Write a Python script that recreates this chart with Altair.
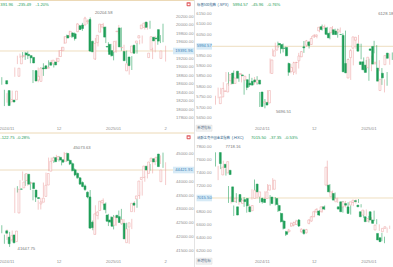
import altair as alt
import pandas as pd

# ---------------- data ----------------
# trading-session index: 0 = 2024-11-01, 20 = 2024-12-02, 41 = 2025-01-02, 61 = 2025-02-03
month_labels = ["2024/11", "12", "2025/01", "2"]
month_index = [0, 20, 41, 61]

# Nasdaq Composite, sessions -2 .. 61
ixic_start = -2
ixic_open = [18688, 18452, 18184, 18225, 18234, 18790, 19087, 19260, 19345, 19312, 19282, 19240,
             18926, 18703, 18670, 18990, 19040, 18980, 19120, 19090, 19130, 19140, 19260, 19400, 19580,
             19760, 19740, 19820, 19800, 19850, 19990, 20010, 20010, 20090, 20140, 19620, 19200, 19590,
             19840, 19960, 19960, 19500, 19550, 19400, 19370, 19850, 19940, 19470, 19380, 18920, 19250,
             19350, 19530, 19580, 19700, 19920, 19950, 20080, 19235, 19420, 19720, 19700, 19900, 19215]
ixic_high = [18770, 18470, 18390, 18290, 18450, 19000, 19280, 19330, 19366, 19370, 19380, 19260,
             18940, 18830, 19000, 19000, 19100, 19050, 19170, 19180, 19140, 19230, 19410, 19490, 19740,
             19780, 19870, 19840, 19830, 20055, 20010, 20060, 20204.58, 20140, 20190, 19640, 19700, 19770,
             20032, 20060, 19970, 19600, 19560, 19520, 19640, 20010, 19950, 19540, 19400, 19090, 19270,
             19530, 19580, 19660, 19760, 20070, 20060, 20110, 19470, 19750, 19750, 19770, 20040, 19517]
ixic_low = [18590, 18083, 18165, 18132, 18228, 18780, 19080, 19230, 19230, 19180, 19200, 19100,
            18630, 18670, 18650, 18760, 18800, 18960, 18990, 19060, 19000, 19120, 19250, 19390, 19560,
            19690, 19730, 19700, 19640, 19840, 19900, 19870, 20000, 20030, 19370, 19370, 19180, 19500,
            19835, 19920, 19580, 19370, 19260, 19170, 19350, 19790, 19400, 19300, 19100, 18830, 18940,
            19330, 19330, 19550, 19570, 19900, 19900, 19920, 19200, 19360, 19540, 19580, 19600, 19141]
ixic_close = [18607, 18095, 18239, 18179, 18439, 18983, 19269, 19286, 19298, 19281, 19230, 19107,
              18680, 18791, 18987, 18966, 18972, 19003, 19054, 19174, 19060, 19218, 19403, 19480, 19735,
              19700, 19859, 19736, 19687, 20034, 19902, 19926, 20173, 20109, 19392, 19372, 19572, 19764,
              20031, 20020, 19722, 19486, 19310, 19280, 19621, 19864, 19489, 19478, 19161, 19088, 19044,
              19511, 19338, 19630, 19756, 20009, 20053, 19954, 19341, 19733, 19632, 19681, 19627, 19391.96]
ixic_ticks = [20200, 20000, 19800, 19600, 19200, 19000, 18800, 18600, 18400, 18200, 18000, 17800]

# S&P 500, sessions -18 .. 50
spx_start = -18
spx_open = [5719, 5751, 5778, 5775, 5829, 5866, 5816, 5875, 5859, 5857, 5832, 5834, 5817, 5826, 5833, 5819,
            5832, 5775, 5723, 5725, 5722, 5864, 5947, 5976, 6008, 6003, 5986, 5989, 5912, 5874, 5870, 5917,
            5925, 5944, 5992, 6000, 6015, 6003, 6040, 6042, 6069, 6089, 6082, 6083, 6057, 6060, 6074, 6068,
            6063, 6052, 6047, 5912, 5842, 5940, 5985, 6024, 6006, 5920, 5920, 5904, 5892, 5982, 5994, 5910,
            5890, 5782, 5865, 5906, 5962]
spx_high = [5757, 5796, 5795, 5822, 5871, 5870, 5846, 5878, 5872, 5866, 5864, 5834, 5817, 5862, 5843, 5847,
            5851, 5775, 5772, 5741, 5784, 5936, 5983, 6012, 6017, 6009, 6008, 5993, 5916, 5909, 5920, 5920,
            5963, 5972, 6020, 6025, 6020, 6044, 6053, 6052, 6089, 6099, 6099, 6088, 6065, 6092, 6079, 6079,
            6085, 6057, 6070, 5935, 5982, 5979, 6040, 6049, 6007, 5941, 5929, 5935, 5950, 6021, 6000, 5928,
            5890, 5836, 5871, 5960, 5965]
spx_low = [5714, 5745, 5764, 5775, 5824, 5804, 5809, 5840, 5846, 5824, 5821, 5762, 5784, 5799, 5823, 5811,
           5810, 5703, 5723, 5696.51, 5722, 5864, 5947, 5976, 5986, 5960, 5965, 5947, 5853, 5865, 5857, 5860,
           5888, 5944, 5963, 5992, 5984, 6003, 6035, 6033, 6062, 6070, 6079, 6047, 6028, 6060, 6051, 6036,
           6059, 6035, 5867, 5866, 5833, 5903, 5983, 6007, 5932, 5880, 5868, 5829, 5875, 5961, 5890, 5875,
           5809, 5773, 5805, 5906, 5929]
spx_close = [5751, 5792, 5780, 5815, 5859, 5815, 5842, 5841, 5864, 5853, 5851, 5797, 5809, 5808, 5823, 5832,
             5813, 5705, 5728, 5712, 5782, 5929, 5973, 5995, 6001, 5983, 5985, 5949, 5870, 5893, 5916, 5917,
             5948, 5969, 5987, 6021, 5998, 6032, 6047, 6049, 6086, 6075, 6090, 6052, 6035, 6084, 6051, 6051,
             6074, 6051, 5872, 5867, 5931, 5974, 6040, 6038, 5971, 5907, 5882, 5869, 5942, 5975, 5909, 5918,
             5827, 5836, 5843, 5950, 5937]
spx_ticks = [6150, 6100, 6050, 5950, 5900, 5850, 5800, 5750, 5700, 5650]

# Dow Jones Industrial Average, sessions -2 .. 61
dji_start = -2
dji_open = [42230, 42000, 41900, 42080, 41840, 42870, 43740, 43780, 44040, 44270, 43950, 43960,
            43700, 43430, 43200, 43260, 43470, 43880, 44380, 44760, 44870, 44800, 44880, 44790, 44740,
            45020, 44770, 44650, 44430, 44300, 44140, 43970, 43850, 43620, 43450, 42540, 42100, 42780,
            42960, 43240, 43200, 42800, 42620, 42720, 42430, 42790, 42740, 42480, 42500, 41800, 42360,
            42920, 43230, 43380, 43500, 44080, 44150, 44560, 44300, 44740, 44830, 44740, 45000, 44000]
dji_high = [42430, 42090, 42280, 42190, 42240, 43780, 43840, 44060, 44370, 44280, 44080, 44000,
            43710, 43530, 43330, 43420, 43970, 44330, 44870, 44870, 44900, 44970, 44930, 44830, 45073.63,
            45050, 44800, 44700, 44480, 44330, 44160, 44010, 43900, 43650, 43700, 42600, 43150, 42950,
            43300, 43400, 43250, 42840, 42750, 42800, 42760, 42960, 43020, 42650, 42520, 42320, 42660,
            43300, 43370, 43640, 44050, 44200, 44580, 44640, 44800, 44860, 44900, 44950, 45050, 44700]
dji_low = [42140, 41760, 41900, 41647.75, 41830, 42870, 43610, 43760, 44040, 43850, 43850, 43700,
           43330, 43270, 42990, 43000, 43430, 43870, 44380, 44640, 44680, 44780, 44730, 44590, 44730,
           44720, 44600, 44370, 44200, 44100, 43890, 43800, 43670, 43400, 42310, 42250, 42100, 42640,
           42960, 43150, 42860, 42400, 42520, 42280, 42410, 42650, 42460, 42210, 41840, 41760, 42290,
           42900, 43060, 43380, 43500, 44000, 44120, 44400, 44300, 44600, 44550, 44640, 44500, 43880]
dji_close = [42141, 41763, 42052, 41794, 42221, 43729, 43729, 43988, 44293, 43910, 43958, 43750,
             43444, 43389, 43268, 43408, 43870, 44296, 44736, 44860, 44722, 44910, 44782, 44705, 45014,
             44765, 44642, 44401, 44247, 44148, 43914, 43828, 43717, 43449, 42326, 42342, 42840, 42906,
             43297, 43325, 42992, 42573, 42544, 42392, 42732, 42706, 42528, 42635, 41938, 42297, 42518,
             43221, 43153, 43487, 44025, 44156, 44565, 44424, 44713, 44850, 44713, 44882, 44544, 44421.91]
dji_ticks = [45000, 44000, 43500, 43000, 42500, 42000, 41500]

# Nasdaq Golden Dragon China (.HXC), sessions -18 .. 49
hxc_start = -18
hxc_open = [7715, 7370, 7534, 7400, 7442, 7187, 6960, 6880, 7069, 6931, 6990, 7008, 6880, 6820, 7008, 7230,
            7034, 7008, 7000, 7008, 7136, 7030, 7150, 7008, 6900, 6778, 6661, 6497, 6497, 6585, 6600, 6609,
            6677, 6497, 6523, 6480, 6625, 6661, 6727, 6800, 6815, 6804, 6880, 7213, 7213, 7034, 7085, 6957,
            6880, 6957, 6880, 6930, 6880, 6906, 6946, 6975, 6906, 6804, 6753, 6727, 6660, 6804, 6677, 6523,
            6470, 6405, 6497, 6548]
hxc_high = [7718.16, 7510, 7560, 7590, 7470, 7200, 7040, 6900, 7090, 7000, 7010, 7030, 6900, 6920, 7150, 7300,
            7120, 7030, 7020, 7120, 7230, 7060, 7320, 7030, 6930, 6790, 6680, 6510, 6540, 6640, 6650, 6680,
            6690, 6550, 6540, 6540, 6690, 6740, 6820, 6860, 6830, 6890, 6900, 7590, 7230, 7130, 7100, 7020,
            6900, 6970, 6970, 6950, 6900, 6970, 6995, 7000, 6920, 6820, 6840, 6740, 6720, 6820, 6690, 6610,
            6480, 6420, 6560, 6590]
hxc_low = [7500, 7290, 7460, 7380, 7360, 6940, 6930, 6740, 6940, 6910, 6940, 6880, 6790, 6800, 6990, 7090,
           7010, 6940, 6930, 6990, 7120, 6900, 7140, 6900, 6800, 6640, 6530, 6430, 6480, 6570, 6580, 6600,
           6570, 6480, 6450, 6470, 6610, 6650, 6720, 6790, 6740, 6790, 6830, 7190, 7090, 7010, 6970, 6940,
           6830, 6790, 6870, 6890, 6760, 6890, 6930, 6940, 6870, 6710, 6740, 6640, 6640, 6660, 6610, 6510,
           6350, 6320, 6480, 6540]
hxc_close = [7545, 7490, 7483, 7575, 7376, 6957, 7010, 6753, 6957, 6983, 6960, 6896, 6804, 6900, 7136, 7110,
             7110, 6957, 6946, 7110, 7213, 6930, 7289, 6916, 6820, 6651, 6548, 6456, 6523, 6625, 6640, 6661,
             6585, 6535, 6470, 6530, 6677, 6727, 6804, 6840, 6753, 6880, 6845, 7490, 7110, 7110, 6983, 7008,
             6845, 6804, 6957, 6905, 6778, 6957, 6983, 6960, 6880, 6727, 6830, 6651, 6700, 6677, 6625, 6600,
             6370, 6344, 6548, 6574]
hxc_ticks = [7800, 7600, 7400, 7200, 6800, 6600, 6400, 6200]

# ---------------- style ----------------
GREEN = "#1f9e58"
RED = "#ea9c9c"
LABEL = "#8f8f8f"
CUR_LINE = "#e7cfa3"
CUR_BOX = "#d6eaf6"
CUR_TXT = "#3b82b8"
NAME = "#2f5f8a"
SEP = "#dcdcdc"
FONT = "Liberation Sans"
CJK = "Noto Sans CJK SC"
FS = 4.2

X_LEFT = [-2.69, 62.69]
X_RIGHT = [-19.35, 50.27]


def const():
    return alt.Chart(pd.DataFrame({"k": [0]}))


def panel(start, o, h, l, c, xdom, ydom, box, ticks, cur, side, extremes, header):
    x0, x1, y0, y1 = box
    n = len(o)
    df = pd.DataFrame({"i": [start + k for k in range(n)], "o": o, "h": h, "l": l, "c": c})
    df["dir"] = ["up" if cc >= oo else "down" for oo, cc in zip(o, c)]
    xs = alt.Scale(domain=xdom, range=[x0, x1], nice=False, zero=False)
    ys = alt.Scale(domain=ydom, range=[y1, y0], nice=False, zero=False)
    X = alt.X("i:Q", scale=xs, axis=None)
    col = alt.Stroke("dir:N", scale=alt.Scale(domain=["up", "down"], range=[RED, GREEN]), legend=None)
    base = alt.Chart(df)
    wick = base.mark_rule(strokeWidth=0.55).encode(
        x=X, y=alt.Y("l:Q", scale=ys, axis=None), y2="h:Q", stroke=col)
    body = base.mark_bar(size=1.9, strokeWidth=0.5).encode(
        x=X, y=alt.Y("o:Q", scale=ys, axis=None), y2="c:Q", stroke=col,
        fill=alt.Fill("dir:N", scale=alt.Scale(domain=["up", "down"], range=["white", GREEN]), legend=None))

    px_per_unit = (y1 - y0) / (ydom[1] - ydom[0])
    half = 3.3 / px_per_unit

    if side == "right":
        line_x, line_x2 = x0, x1 + 3
        box_x, box_x2 = x1 + 3, x1 + 25
        lab_x = x1 + 23.5
        cur_x = x1 + 14
    else:
        line_x, line_x2 = x0 - 15, x1
        box_x, box_x2 = x0 - 15.5, x0
        lab_x = x0 - 0.5
        cur_x = x0 - 7.8

    curdf = pd.DataFrame({"v": [cur], "lo": [cur - half], "hi": [cur + half], "t": [f"{cur:.2f}"]})
    cur_line = alt.Chart(curdf).mark_rule(color=CUR_LINE, strokeWidth=0.7).encode(
        y=alt.Y("v:Q", scale=ys, axis=None), x=alt.value(line_x), x2=alt.value(line_x2))
    cur_box = alt.Chart(curdf).mark_rect(color=CUR_BOX).encode(
        y=alt.Y("lo:Q", scale=ys, axis=None), y2="hi:Q", x=alt.value(box_x), x2=alt.value(box_x2))
    cur_txt = alt.Chart(curdf).mark_text(font=FONT, fontSize=FS, color=CUR_TXT, align="center",
                                         baseline="middle").encode(
        y=alt.Y("v:Q", scale=ys, axis=None), x=alt.value(cur_x), text="t:N")

    tdf = pd.DataFrame({"v": ticks, "t": [f"{t:.2f}" for t in ticks]})
    ylabels = alt.Chart(tdf).mark_text(font=FONT, fontSize=FS, color=LABEL, align="right",
                                       baseline="middle").encode(
        y=alt.Y("v:Q", scale=ys, axis=None), x=alt.value(lab_x), text="t:N")

    mdf = pd.DataFrame({"i": month_index, "t": month_labels})
    mdf = mdf[(mdf.i >= xdom[0]) & (mdf.i <= xdom[1])]
    xlabels = alt.Chart(mdf).mark_text(font=FONT, fontSize=FS, color=LABEL, align="center",
                                       baseline="middle").encode(
        x=X, y=alt.value(y1 + 5.5), text="t:N")

    layers = [cur_line, wick, body, cur_box, cur_txt, ylabels, xlabels]

    for (ei, ev, et, edx, edy, ealign) in extremes:
        edf = pd.DataFrame({"i": [ei], "v": [ev], "t": [et]})
        layers.append(alt.Chart(edf).mark_text(font=FONT, fontSize=FS, color="#777777", baseline="middle",
                                               align=ealign, dx=edx, dy=edy).encode(
            x=X, y=alt.Y("v:Q", scale=ys, axis=None), text="t:N"))

    for (hx, hy, htxt, hc, hfont, hfs) in header:
        layers.append(const().mark_text(baseline="middle", align="left", fontSize=hfs, font=hfont,
                                        color=hc).encode(
            x=alt.value(hx), y=alt.value(hy), text=alt.value(htxt)))
    return layers


L1 = panel(ixic_start, ixic_open, ixic_high, ixic_low, ixic_close, X_LEFT, [17681, 20366],
           (0, 170, 10, 123), ixic_ticks, 19391.96, "right",
           [(30, 20204.58, "20204.58", 10, -4, "left")],
           [(0.3, 4.5, "391.96", GREEN, FONT, 4.2), (17.0, 4.5, "-235.49", GREEN, FONT, 4.2),
            (35.5, 4.5, "-1.20%", GREEN, FONT, 4.2)])
L2 = panel(spx_start, spx_open, spx_high, spx_low, spx_close, X_RIGHT, [5626, 6169],
           (212, 393, 10, 123), spx_ticks, 5994.57, "left",
           [(55, 6128.18, "6128.18", -12, -4, "right"), (1, 5696.51, "5696.51", 11, 3.5, "left")],
           [(197, 4.5, "标普500指数", NAME, CJK, 3.4), (217.5, 4.5, "(.SPX)", NAME, FONT, 3.7),
            (232.7, 4.5, "5994.57", GREEN, FONT, 4.2), (251.5, 4.5, "-45.96", GREEN, FONT, 4.2),
            (267, 4.5, "-0.76%", GREEN, FONT, 4.2)])
L3 = panel(dji_start, dji_open, dji_high, dji_low, dji_close, X_LEFT, [41320, 45433],
           (0, 170, 142, 256), dji_ticks, 44421.91, "right",
           [(22, 45073.63, "45073.63", 9, -4, "left"), (1, 41647.75, "41647.75", 8, 2.5, "left")],
           [(0.3, 137.5, "-122.75", GREEN, FONT, 4.2), (16.5, 137.5, "-0.28%", GREEN, FONT, 4.2)])
L4 = panel(hxc_start, hxc_open, hxc_high, hxc_low, hxc_close, X_RIGHT, [6123, 7877],
           (212, 393, 142, 256), hxc_ticks, 7015.50, "left",
           [(-18, 7718.16, "7718.16", 10, -5, "left")],
           [(197, 137.5, "纳斯达克中国金龙指数", NAME, CJK, 3.3), (231.7, 137.5, "(.HXC)", NAME, FONT, 3.9),
            (251, 137.5, "7015.50", GREEN, FONT, 4.2), (269.5, 137.5, "-37.35", GREEN, FONT, 4.2),
            (284.5, 137.5, "-0.53%", GREEN, FONT, 4.2)])

# frame decorations: panel borders, icons, indicator buttons
deco = [
    const().mark_rule(color=SEP, strokeWidth=0.8).encode(
        x=alt.value(194.5), y=alt.value(0), y2=alt.value(267)),
    const().mark_rule(color=CUR_LINE, strokeWidth=0.8).encode(
        x=alt.value(0), x2=alt.value(194), y=alt.value(0.5)),
    const().mark_rule(color=CUR_LINE, strokeWidth=0.8).encode(
        x=alt.value(0), x2=alt.value(194), y=alt.value(133)),
]
for iy in (4.2, 137.2):
    deco.append(const().mark_rect(color="#e05a5e", cornerRadius=0.6).encode(
        x=alt.value(186.6), x2=alt.value(190.6), y=alt.value(iy - 2), y2=alt.value(iy + 2)))
    deco.append(const().mark_rect(color="white").encode(
        x=alt.value(187.6), x2=alt.value(189.6), y=alt.value(iy - 0.6), y2=alt.value(iy + 1)))
for by in (128.2, 261.2):
    deco.append(const().mark_rect(fill="#f4f4f4", stroke="#d0d0d0", strokeWidth=0.4).encode(
        x=alt.value(196.2), x2=alt.value(212), y=alt.value(by - 3), y2=alt.value(by + 3)))
    deco.append(const().mark_text(font=CJK, fontSize=3.4, color="#506a85", align="center",
                                  baseline="middle").encode(
        x=alt.value(204.1), y=alt.value(by), text=alt.value("新增指标")))

chart = alt.layer(*(L1 + L2 + L3 + L4 + deco)).resolve_scale(
    x="independent", y="independent"
).properties(
    width=393, height=267,
    padding=0,
    autosize=alt.AutoSizeParams(type="none"),
).configure_view(stroke=None)

chart.save("out.html", embed_options={"renderer": "svg", "actions": False})
